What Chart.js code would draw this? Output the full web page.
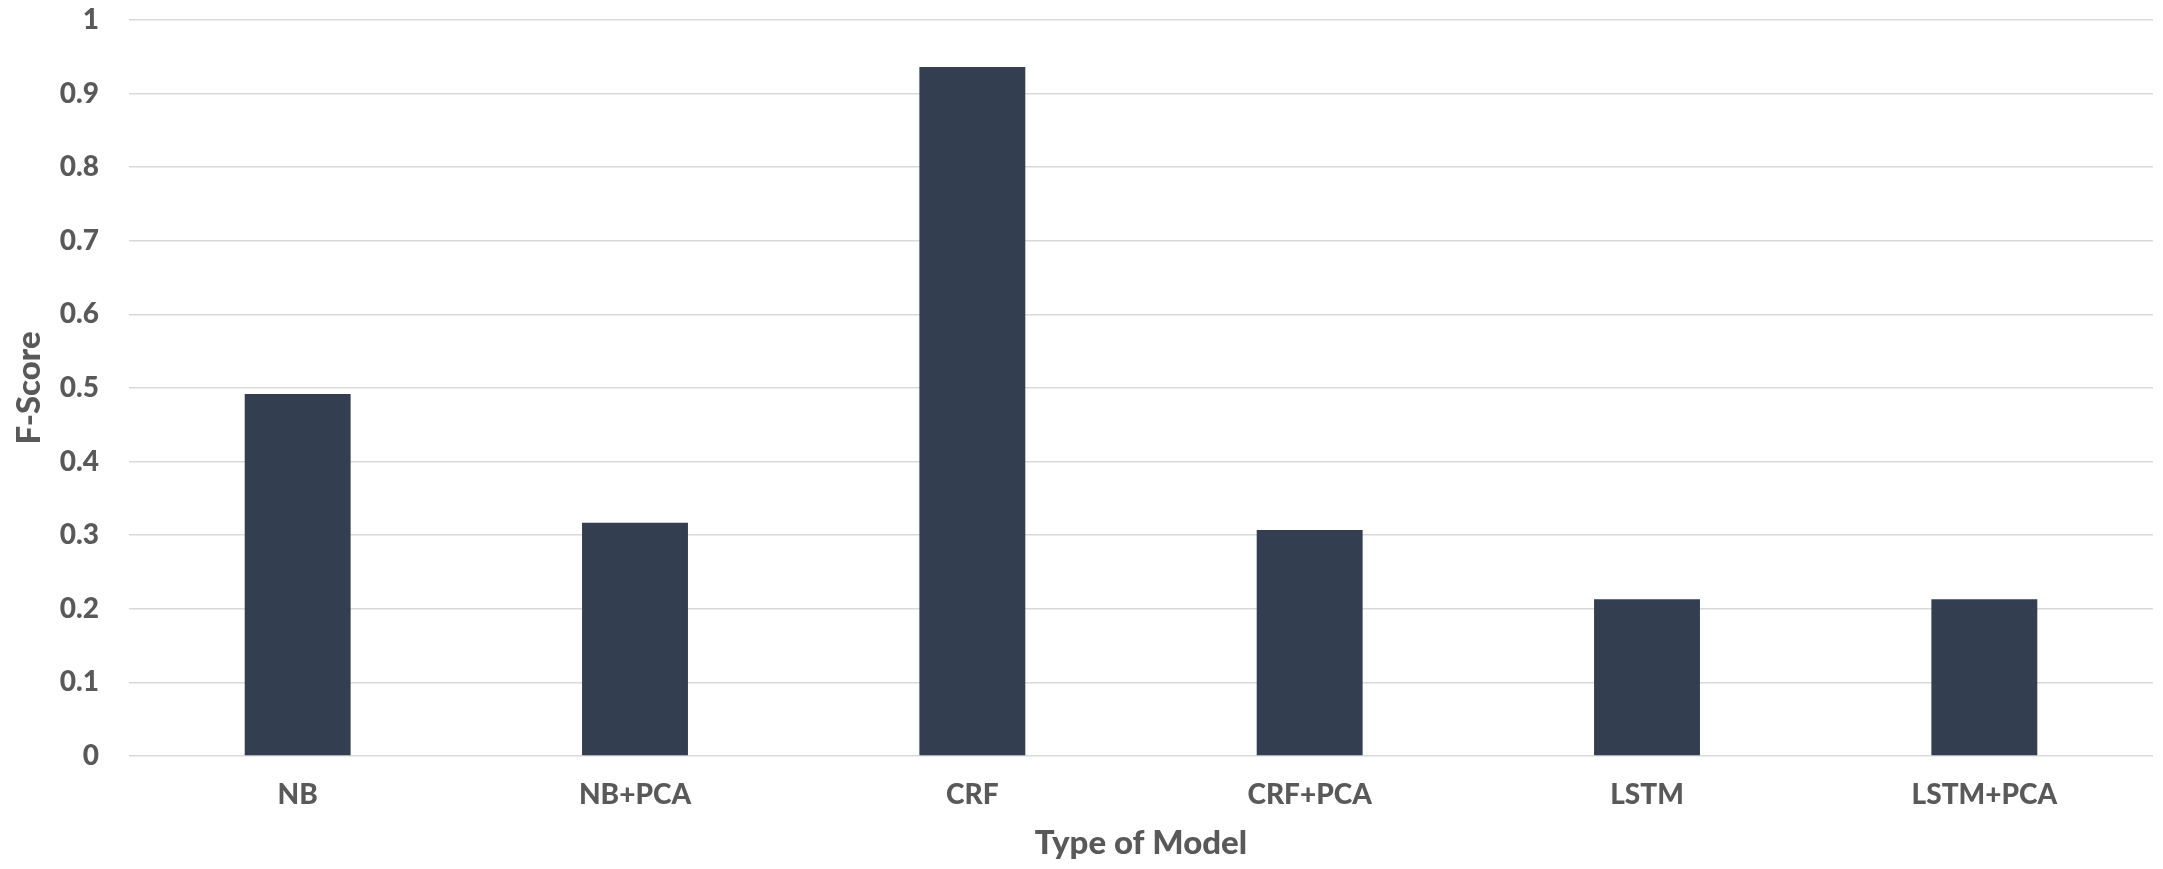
<!DOCTYPE html>
<html>
<head>
<meta charset="utf-8">
<script src="https://cdn.jsdelivr.net/npm/chart.js@4/dist/chart.umd.min.js"></script>
<style>
  html, body { margin: 0; padding: 0; background: #ffffff; }
  #wrap { width: 2163px; height: 869px; }
</style>
</head>
<body>
<div id="wrap"><canvas id="chart" width="2163" height="869"></canvas></div>
<script>
// Model categories and their F-scores
const models = ['NB', 'NB+PCA', 'CRF', 'CRF+PCA', 'LSTM', 'LSTM+PCA'];
const fScores = [0.492, 0.317, 0.936, 0.307, 0.213, 0.213];

const yMin = 0;
const yMax = 1;
const yStep = 0.1;

const textColor = '#595959';
const gridColor = '#D9D9D9';
const barColor = '#333F50';
const fontFamily = 'Lato, "Open Sans", "Liberation Sans", sans-serif';

const whiteBg = {
  id: 'whiteBg',
  beforeDraw(chart) {
    const ctx = chart.ctx;
    ctx.save();
    ctx.fillStyle = '#ffffff';
    ctx.fillRect(0, 0, chart.width, chart.height);
    ctx.restore();
  }
};

new Chart(document.getElementById('chart'), {
  type: 'bar',
  data: {
    labels: models,
    datasets: [{
      label: 'F-Score',
      data: fScores,
      backgroundColor: barColor,
      borderWidth: 0,
      categoryPercentage: 1.0,
      barPercentage: 0.314
    }]
  },
  options: {
    responsive: false,
    animation: false,
    devicePixelRatio: 1,
    layout: { padding: { left: 0, right: 10, top: 20, bottom: 0 } },
    plugins: {
      legend: { display: false },
      tooltip: { enabled: false }
    },
    scales: {
      x: {
        grid: { display: false, drawTicks: false },
        border: { display: false },
        ticks: {
          color: textColor,
          padding: 22,
          maxRotation: 0,
          font: { family: fontFamily, size: 28, weight: 900 }
        },
        title: {
          display: true,
          text: 'Type of Model',
          color: textColor,
          padding: { top: 0, bottom: 6 },
          font: { family: fontFamily, size: 33, weight: 900 }
        },
        afterFit(scale) {
          scale.height = 113;
          scale.paddingLeft = 0;
          scale.paddingRight = 0;
        }
      },
      y: {
        min: yMin,
        max: yMax,
        grid: { color: gridColor, lineWidth: 1.5, drawTicks: false },
        border: { display: false },
        ticks: {
          stepSize: yStep,
          color: textColor,
          padding: 30,
          font: { family: fontFamily, size: 28, weight: 900 },
          callback: (v) => String(Number(v.toFixed(1)))
        },
        title: {
          display: true,
          text: 'F-Score',
          color: textColor,
          padding: { top: 10, bottom: 0 },
          font: { family: fontFamily, size: 33, weight: 900 }
        },
        afterFit(scale) {
          scale.width = 129;
          scale.paddingTop = 0;
          scale.paddingBottom = 0;
        }
      }
    }
  },
  plugins: [whiteBg]
});
</script>
</body>
</html>
